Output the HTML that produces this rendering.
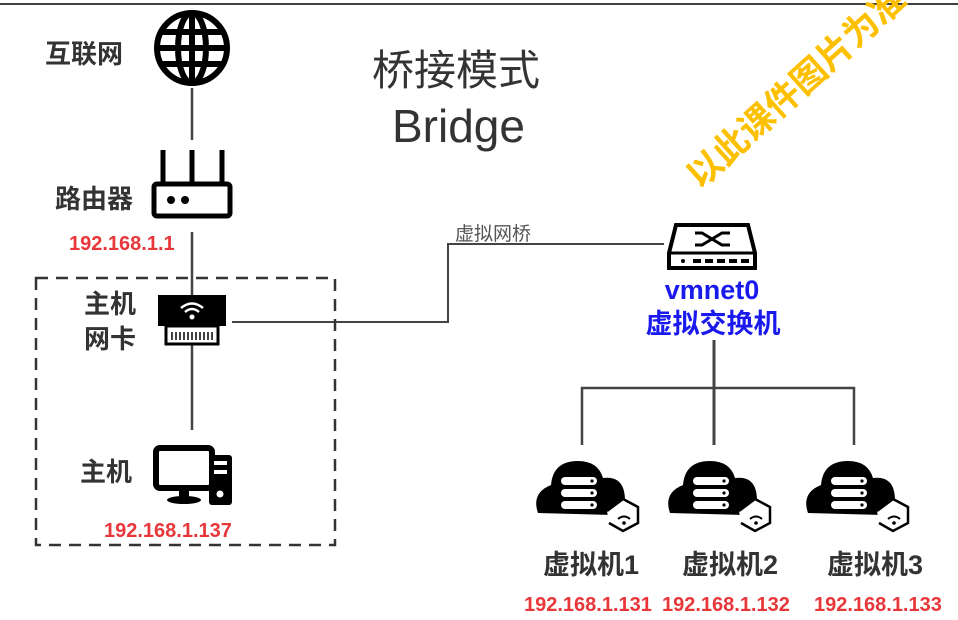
<!DOCTYPE html>
<html><head><meta charset="utf-8"><style>
html,body{margin:0;padding:0;background:#fff;width:958px;height:620px;overflow:hidden}
svg{display:block}
text{font-family:"Liberation Sans","Noto Sans CJK SC",sans-serif}
</style></head><body>
<svg width="958" height="620" viewBox="0 0 958 620" xmlns="http://www.w3.org/2000/svg">
<line x1="0" y1="4" x2="958" y2="4" stroke="#000" stroke-width="1.5"/>
<g stroke="#444" stroke-width="2.5" fill="none">
<line x1="192" y1="88" x2="192" y2="140"/>
<line x1="192" y1="232" x2="192" y2="296"/>
<line x1="192" y1="345" x2="192" y2="430"/>
<polyline points="232,322 448,322 448,244 664,244" stroke-width="2"/>
<line x1="714" y1="340" x2="714" y2="445" stroke-width="3"/>
<polyline points="582,445 582,388 854,388 854,445"/>
</g>
<rect x="36" y="278" width="299" height="267" fill="none" stroke="#333" stroke-width="2.5" stroke-dasharray="12,8"/>
<g fill="none" stroke="#000" stroke-width="6">
<circle cx="192" cy="48" r="35"/>
<ellipse cx="192" cy="48" rx="14" ry="35"/>
<line x1="192" y1="13" x2="192" y2="83"/>
<line x1="157" y1="48" x2="227" y2="48"/>
<line x1="162" y1="32" x2="222" y2="32"/>
<line x1="162" y1="64" x2="222" y2="64"/>
</g>
<g stroke="#000" stroke-width="5" fill="none">
<line x1="163" y1="150" x2="163" y2="184"/><line x1="192" y1="150" x2="192" y2="184"/><line x1="222" y1="150" x2="222" y2="184"/>
<rect x="154" y="184" width="76" height="32" rx="3"/>
</g>
<circle cx="171" cy="200" r="4"/><circle cx="185" cy="200" r="4"/>
<rect x="158" y="295" width="68" height="31" fill="#000"/>
<rect x="166" y="326" width="52" height="18" fill="none" stroke="#000" stroke-width="3"/>
<g stroke="#000" stroke-width="1.5"><line x1="172" y1="332" x2="172" y2="340"/><line x1="176" y1="332" x2="176" y2="340"/><line x1="180" y1="332" x2="180" y2="340"/><line x1="184" y1="332" x2="184" y2="340"/><line x1="188" y1="332" x2="188" y2="340"/><line x1="192" y1="332" x2="192" y2="340"/><line x1="196" y1="332" x2="196" y2="340"/><line x1="200" y1="332" x2="200" y2="340"/><line x1="204" y1="332" x2="204" y2="340"/><line x1="208" y1="332" x2="208" y2="340"/><line x1="212" y1="332" x2="212" y2="340"/></g>
<g fill="none" stroke="#fff" stroke-width="2.5"><path d="M181 308 Q192 299 203 308"/><path d="M185 312 Q192 306 199 312"/></g>
<circle cx="192" cy="317" r="2.5" fill="#fff"/>
<rect x="156" y="448" width="56" height="40" rx="4" fill="none" stroke="#000" stroke-width="6"/>
<rect x="179" y="488" width="10" height="10" fill="#000"/>
<ellipse cx="184" cy="500" rx="17" ry="4" fill="#000"/>
<rect x="209" y="455" width="23" height="50" rx="3" fill="#000"/>
<rect x="214" y="461" width="13" height="4" fill="#fff"/><rect x="214" y="470" width="13" height="4" fill="#fff"/>
<circle cx="220" cy="494" r="3.5" fill="#fff"/>
<path d="M676 225 L748 225 L755 253 L755 268 L669 268 L669 253 Z" fill="none" stroke="#000" stroke-width="4"/>
<line x1="669" y1="253" x2="755" y2="253" stroke="#000" stroke-width="3"/>
<g stroke="#000" stroke-width="3" fill="none"><path d="M695 233 L702 233 L722 245 L730 245"/><path d="M695 245 L702 245 L722 233 L730 233"/></g>
<g fill="#000"><circle cx="683" cy="261" r="2"/><rect x="693" y="259" width="8" height="4"/><rect x="705" y="259" width="8" height="4"/><rect x="717" y="259" width="8" height="4"/><rect x="729" y="259" width="8" height="4"/><rect x="741" y="259" width="8" height="4"/></g>
<defs><g id="vm">
<path d="M-45 30 Q-52 10 -32 2 Q-30 -22 -5 -22 Q15 -22 20 -5 Q42 -8 42 18 Q42 30 30 32 Z" fill="#000"/>
<rect x="-22" y="-6" width="36" height="8" rx="4" fill="#fff"/><rect x="-22" y="6" width="36" height="8" rx="4" fill="#fff"/><rect x="-22" y="18" width="36" height="8" rx="4" fill="#fff"/>
<circle cx="9" cy="-2" r="1.6"/><circle cx="9" cy="10" r="1.6"/><circle cx="9" cy="22" r="1.6"/>
<path d="M24 28 L40 16 L55 24 L55 40 L40 48 L26 40" fill="#fff" stroke="#000" stroke-width="2.5"/>
<path d="M35 36 Q41 31 47 36" fill="none" stroke="#000" stroke-width="2"/><circle cx="41" cy="40" r="1.8" fill="#000"/>
</g></defs>
<use href="#vm" x="583" y="483"/>
<use href="#vm" x="715" y="483"/>
<use href="#vm" x="853" y="483"/>
<g font-weight="bold" fill="#333" font-size="26">
<text x="45" y="63">互联网</text>
<text x="55" y="208">路由器</text>
<text x="84" y="313">主机</text>
<text x="84" y="348">网卡</text>
<text x="80" y="481">主机</text>
<text x="543" y="574" font-size="27">虚拟机1</text>
<text x="682" y="574" font-size="27">虚拟机2</text>
<text x="827" y="574" font-size="27">虚拟机3</text>
</g>
<g font-weight="bold" fill="#e8373a" font-size="20">
<text x="69" y="250">192.168.1.1</text>
<text x="104" y="537">192.168.1.137</text>
<text x="524" y="611">192.168.1.131</text>
<text x="662" y="611">192.168.1.132</text>
<text x="814" y="611">192.168.1.133</text>
</g>
<g font-weight="bold" fill="#1a1aee" font-size="27">
<text x="712" y="299" text-anchor="middle">vmnet0</text>
<text x="713" y="333" text-anchor="middle">虚拟交换机</text>
</g>
<text x="455" y="240" font-size="19" fill="#555">虚拟网桥</text>
<text x="372" y="85" font-size="42" fill="#333">桥接模式</text>
<text x="392" y="142" font-size="46" fill="#333">Bridge</text>
<text transform="translate(700,190) rotate(-42)" font-size="35" font-weight="bold" fill="#fdc000">以此课件图片为准</text>
</svg>
</body></html>
